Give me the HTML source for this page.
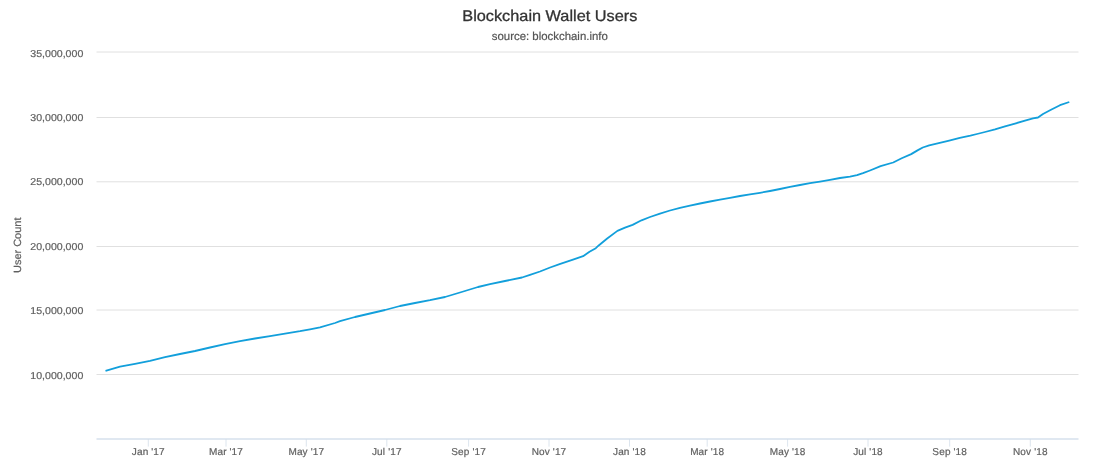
<!DOCTYPE html>
<html><head><meta charset="utf-8"><title>Blockchain Wallet Users</title>
<style>
html,body{margin:0;padding:0;background:#fff;}
body{width:1100px;height:473px;overflow:hidden;font-family:"Liberation Sans",sans-serif;}
svg{display:block;text-rendering:geometricPrecision;will-change:transform;opacity:0.999;font-family:"Liberation Sans",sans-serif;}
</style></head><body>
<svg width="1100" height="473" viewBox="0 0 1100 473">
<rect width="1100" height="473" fill="#ffffff"/>
<path d="M96.5 52.0 H1078.5" stroke="#e0e0e0" stroke-width="1" fill="none"/>
<path d="M96.5 117.5 H1078.5" stroke="#e0e0e0" stroke-width="1" fill="none"/>
<path d="M96.5 181.8 H1078.5" stroke="#e0e0e0" stroke-width="1" fill="none"/>
<path d="M96.5 246.5 H1078.5" stroke="#e0e0e0" stroke-width="1" fill="none"/>
<path d="M96.5 310.0 H1078.5" stroke="#e0e0e0" stroke-width="1" fill="none"/>
<path d="M96.5 374.5 H1078.5" stroke="#e0e0e0" stroke-width="1" fill="none"/>
<path d="M96.5 439 H1078.5" stroke="#d6e0ed" stroke-width="1.5" fill="none"/>
<path d="M148.3 439 V446.6" stroke="#d3deea" stroke-width="0.8" fill="none"/>
<path d="M226.0 439 V446.6" stroke="#d3deea" stroke-width="0.8" fill="none"/>
<path d="M306.3 439 V446.6" stroke="#d3deea" stroke-width="0.8" fill="none"/>
<path d="M386.8 439 V446.6" stroke="#d3deea" stroke-width="0.8" fill="none"/>
<path d="M468.6 439 V446.6" stroke="#d3deea" stroke-width="0.8" fill="none"/>
<path d="M549.0 439 V446.6" stroke="#d3deea" stroke-width="0.8" fill="none"/>
<path d="M629.5 439 V446.6" stroke="#d3deea" stroke-width="0.8" fill="none"/>
<path d="M707.2 439 V446.6" stroke="#d3deea" stroke-width="0.8" fill="none"/>
<path d="M787.6 439 V446.6" stroke="#d3deea" stroke-width="0.8" fill="none"/>
<path d="M868.0 439 V446.6" stroke="#d3deea" stroke-width="0.8" fill="none"/>
<path d="M949.7 439 V446.6" stroke="#d3deea" stroke-width="0.8" fill="none"/>
<path d="M1030.3 439 V446.6" stroke="#d3deea" stroke-width="0.8" fill="none"/>
<path d="M105.5 370.8 L120.0 366.7 L135.0 363.8 L150.0 360.9 L165.0 357.2 L180.0 354.0 L195.0 351.0 L210.0 347.5 L225.0 344.1 L240.0 341.1 L255.0 338.5 L270.0 336.2 L285.0 333.7 L300.0 331.2 L310.0 329.3 L320.0 327.3 L335.0 323.0 L340.0 321.2 L355.0 317.0 L370.0 313.5 L385.0 310.0 L400.0 306.0 L415.0 303.0 L430.0 300.2 L445.0 297.0 L460.0 292.5 L478.0 287.0 L490.0 284.2 L505.0 281.0 L522.0 277.5 L530.0 274.8 L540.0 271.5 L550.1 267.5 L560.3 263.8 L573.0 259.7 L583.1 256.2 L589.5 251.8 L595.8 248.2 L599.0 245.2 L607.2 238.5 L617.4 230.9 L625.0 227.7 L632.6 224.9 L641.5 220.3 L650.0 217.0 L660.0 213.6 L670.0 210.5 L680.0 207.9 L690.0 205.7 L700.0 203.5 L710.0 201.5 L720.0 199.6 L730.0 197.8 L740.0 196.0 L750.0 194.4 L760.0 192.8 L770.0 191.0 L780.0 189.0 L790.0 186.8 L800.0 185.0 L810.0 183.2 L820.0 181.6 L830.0 179.8 L840.0 178.0 L850.0 176.6 L857.0 175.1 L863.0 173.2 L870.0 170.5 L880.6 166.2 L893.2 162.5 L901.7 158.3 L911.2 154.1 L917.5 150.4 L922.8 147.5 L929.2 145.4 L938.7 143.2 L949.2 140.6 L959.8 137.9 L970.4 135.6 L977.0 134.0 L985.0 132.0 L995.0 129.4 L1005.0 126.4 L1015.0 123.6 L1025.0 120.6 L1033.0 118.3 L1038.0 117.5 L1043.0 114.0 L1051.0 109.8 L1060.0 105.2 L1069.3 102.0" stroke="#129fdb" stroke-width="1.8" fill="none" stroke-linejoin="round" stroke-linecap="butt"/>
<text x="549.8" y="20.6" text-anchor="middle" font-size="15.5" fill="#333333" stroke="#333333" stroke-width="0.3" textLength="175" lengthAdjust="spacingAndGlyphs">Blockchain Wallet Users</text>
<text x="549.8" y="39.5" text-anchor="middle" font-size="11.5" fill="#555555" stroke="#555555" stroke-width="0.2" textLength="116" lengthAdjust="spacingAndGlyphs">source: blockchain.info</text>
<text x="83.3" y="57.0" text-anchor="end" font-size="10" fill="#606060" stroke="#606060" stroke-width="0.2" textLength="53" lengthAdjust="spacingAndGlyphs">35,000,000</text>
<text x="83.3" y="120.8" text-anchor="end" font-size="10" fill="#606060" stroke="#606060" stroke-width="0.2" textLength="53" lengthAdjust="spacingAndGlyphs">30,000,000</text>
<text x="83.3" y="184.9" text-anchor="end" font-size="10" fill="#606060" stroke="#606060" stroke-width="0.2" textLength="53" lengthAdjust="spacingAndGlyphs">25,000,000</text>
<text x="83.3" y="249.5" text-anchor="end" font-size="10" fill="#606060" stroke="#606060" stroke-width="0.2" textLength="53" lengthAdjust="spacingAndGlyphs">20,000,000</text>
<text x="83.3" y="313.9" text-anchor="end" font-size="10" fill="#606060" stroke="#606060" stroke-width="0.2" textLength="53" lengthAdjust="spacingAndGlyphs">15,000,000</text>
<text x="83.3" y="378.6" text-anchor="end" font-size="10" fill="#606060" stroke="#606060" stroke-width="0.2" textLength="53" lengthAdjust="spacingAndGlyphs">10,000,000</text>
<text x="148.3" y="454.9" text-anchor="middle" font-size="10" fill="#606060" stroke="#606060" stroke-width="0.2" letter-spacing="0.15">Jan '17</text>
<text x="226.0" y="454.9" text-anchor="middle" font-size="10" fill="#606060" stroke="#606060" stroke-width="0.2" letter-spacing="0.15">Mar '17</text>
<text x="306.3" y="454.9" text-anchor="middle" font-size="10" fill="#606060" stroke="#606060" stroke-width="0.2" letter-spacing="0.15">May '17</text>
<text x="386.8" y="454.9" text-anchor="middle" font-size="10" fill="#606060" stroke="#606060" stroke-width="0.2" letter-spacing="0.15">Jul '17</text>
<text x="468.6" y="454.9" text-anchor="middle" font-size="10" fill="#606060" stroke="#606060" stroke-width="0.2" letter-spacing="0.15">Sep '17</text>
<text x="549.0" y="454.9" text-anchor="middle" font-size="10" fill="#606060" stroke="#606060" stroke-width="0.2" letter-spacing="0.15">Nov '17</text>
<text x="629.5" y="454.9" text-anchor="middle" font-size="10" fill="#606060" stroke="#606060" stroke-width="0.2" letter-spacing="0.15">Jan '18</text>
<text x="707.2" y="454.9" text-anchor="middle" font-size="10" fill="#606060" stroke="#606060" stroke-width="0.2" letter-spacing="0.15">Mar '18</text>
<text x="787.6" y="454.9" text-anchor="middle" font-size="10" fill="#606060" stroke="#606060" stroke-width="0.2" letter-spacing="0.15">May '18</text>
<text x="868.0" y="454.9" text-anchor="middle" font-size="10" fill="#606060" stroke="#606060" stroke-width="0.2" letter-spacing="0.15">Jul '18</text>
<text x="949.7" y="454.9" text-anchor="middle" font-size="10" fill="#606060" stroke="#606060" stroke-width="0.2" letter-spacing="0.15">Sep '18</text>
<text x="1030.3" y="454.9" text-anchor="middle" font-size="10" fill="#606060" stroke="#606060" stroke-width="0.2" letter-spacing="0.15">Nov '18</text>
<text transform="translate(21.0 245.3) rotate(-90)" text-anchor="middle" font-size="10.5" fill="#606060" stroke="#606060" stroke-width="0.2" textLength="55.5" lengthAdjust="spacingAndGlyphs">User Count</text>
</svg></body></html>
